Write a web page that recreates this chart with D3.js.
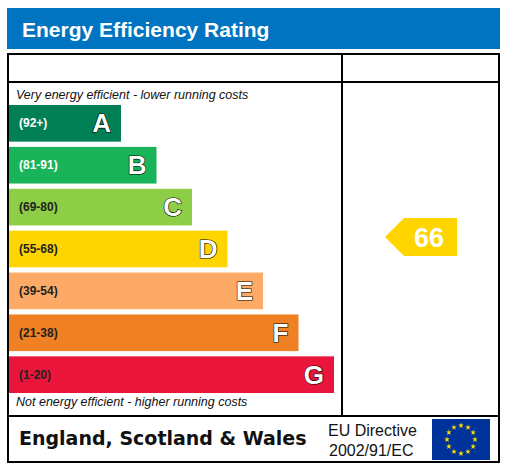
<!DOCTYPE html>
<html><head><meta charset="utf-8">
<script src="https://cdn.jsdelivr.net/npm/d3@7"></script>
<style>body{margin:0;background:#fff}</style></head>
<body><div id="vis"></div>
<script>
// data----
const bands = ["A", "B", "C", "D", "E", "F", "G"]
const ranges = ["(92+)", "(81-91)", "(69-80)", "(55-68)", "(39-54)", "(21-38)", "(1-20)"]
const bandMax = [100, 91, 80, 68, 54, 38, 20]
const colors = ["#008054", "#19b459", "#8dce46", "#ffd500", "#fcaa65", "#ef8023", "#e9153b"]
const rangeColors = ["#fff", "#fff", "#222", "#222", "#222", "#222", "#222"]
const currentRating = 66

const width = 509, height = 467
const svg = d3.select("#vis").append("svg").attr("width", width).attr("height", height)
  .style("font-family", "Arial, 'Liberation Sans', sans-serif")

// header
svg.append("rect").attr("x", 7).attr("y", 8).attr("width", 493).attr("height", 41).attr("fill", "#0074c0")
svg.append("text").attr("x", 22).attr("y", 37).attr("fill", "#fff")
  .style("font-size", "21px").style("font-weight", "bold").text("Energy Efficiency Rating")

// frame
const frame = svg.append("g").attr("stroke", "#000").attr("stroke-width", 2).attr("fill", "none")
frame.append("rect").attr("x", 8).attr("y", 54).attr("width", 491).attr("height", 408)
frame.append("line").attr("x1", 8).attr("x2", 499).attr("y1", 82).attr("y2", 82)
frame.append("line").attr("x1", 342).attr("x2", 342).attr("y1", 54).attr("y2", 416)
frame.append("line").attr("x1", 8).attr("x2", 499).attr("y1", 416).attr("y2", 416)

// scales
const yScale = d3.scaleBand().domain(bands).range([105, 393]).paddingInner(0.125).paddingOuter(0)
const xScale = d3.scaleLinear().domain([0, 7]).range([9, 334])

svg.append("text").attr("x", 16).attr("y", 99).style("font-size", "12.5px").style("font-style", "italic")
  .attr("fill", "#111").text("Very energy efficient - lower running costs")
svg.append("text").attr("x", 16).attr("y", 406).style("font-size", "12.5px").style("font-style", "italic")
  .attr("fill", "#111").text("Not energy efficient - higher running costs")

const rows = svg.selectAll(".band").data(bands).enter().append("g").attr("class", "band")
rows.append("rect")
  .attr("x", xScale(0)).attr("y", d => yScale(d))
  .attr("width", (d, i) => xScale(i + 2.2 - (i === 6 ? 0.2 : 0)) - xScale(0) - (i === 0 ? 0 : 0))
  .attr("height", yScale.bandwidth())
  .attr("fill", (d, i) => colors[i])
rows.selectAll("rect").attr("width", (d, i) => 112 + 35.5 * bands.indexOf(d))
rows.append("text").attr("x", 19).attr("y", d => yScale(d) + yScale.bandwidth() / 2 + 4)
  .style("font-size", "12px").style("font-weight", "bold")
  .attr("fill", (d, i) => rangeColors[i]).text((d, i) => ranges[i])
rows.append("text")
  .attr("x", d => 9 + 112 + 35.5 * bands.indexOf(d) - 10)
  .attr("y", d => yScale(d) + yScale.bandwidth() / 2 + 9)
  .attr("text-anchor", "end").style("font-size", "26px").style("font-weight", "bold")
  .attr("fill", "#fff").attr("stroke", "#000").attr("stroke-width", 1.2).attr("paint-order", "stroke")
  .text(d => d)

// current rating arrow
const curBand = bands[bandMax.findIndex((m, i) => currentRating <= m && (i === 6 || currentRating > bandMax[i + 1]))]
const ay = yScale(curBand) + yScale.bandwidth() / 2 - 12
const arrow = svg.append("g").attr("transform", `translate(385,${ay})`)
arrow.append("path").attr("d", "M0,0 L19,-19 L72,-19 L72,19 L19,19 Z").attr("fill", "#ffd500")
arrow.append("text").attr("x", 44).attr("y", 10).attr("text-anchor", "middle")
  .style("font-size", "27px").style("font-weight", "bold").attr("fill", "#fff").text(currentRating)

// footer
svg.append("text").attr("x", 19).attr("y", 445).style("font-family", "'DejaVu Sans', sans-serif")
  .style("font-size", "19px").style("font-weight", "bold").attr("fill", "#111")
  .text("England, Scotland & Wales")
svg.append("text").attr("x", 328).attr("y", 436).style("font-size", "16px").attr("fill", "#111").text("EU Directive")
svg.append("text").attr("x", 329).attr("y", 456).style("font-size", "16px").attr("fill", "#111").text("2002/91/EC")
const flag = svg.append("g").attr("transform", "translate(432,419)")
flag.append("rect").attr("width", 58).attr("height", 41).attr("fill", "#003399")
const star = d3.symbol().type(d3.symbolStar).size(10)
d3.range(12).forEach(i => {
  const a = i * Math.PI / 6
  flag.append("path").attr("d", star)
    .attr("transform", `translate(${29 + 14 * Math.sin(a)},${20.5 - 14 * Math.cos(a)})`)
    .attr("fill", "#ffdd00")
})
</script></body></html>
